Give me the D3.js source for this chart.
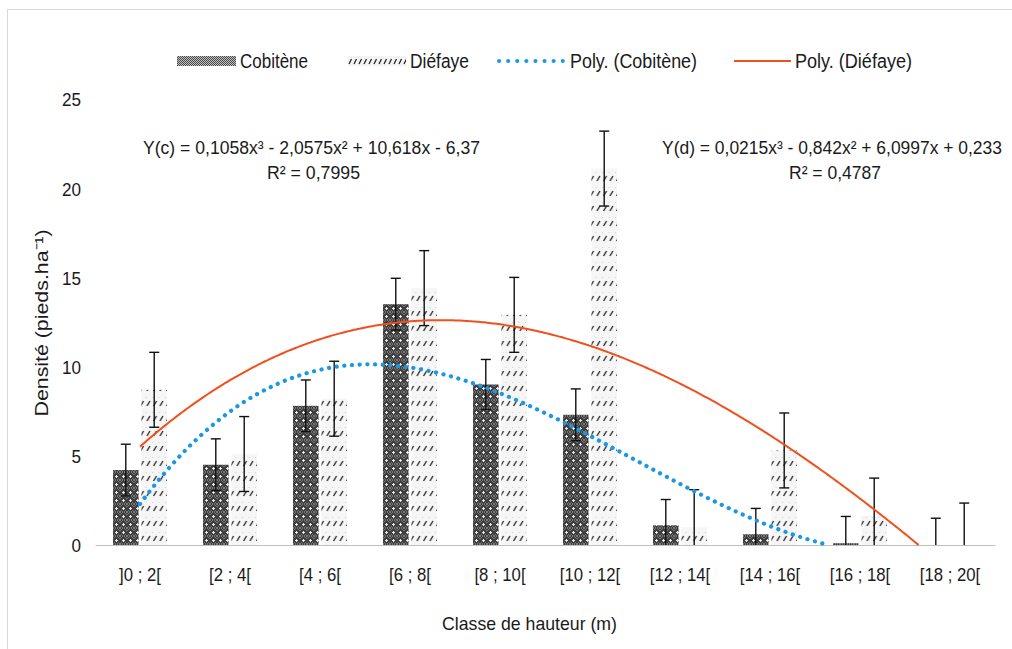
<!DOCTYPE html>
<html><head><meta charset="utf-8">
<script src="https://cdn.jsdelivr.net/npm/d3@7"></script>
<style>
body{margin:0;background:#fff}
text{font-family:"Liberation Sans","Arial",sans-serif;fill:#1a1a1a}
</style>
</head><body>
<svg id="c" width="1012" height="649"></svg>
<script>
// ---------- data ----------
const categories = ["]0 ; 2[", "[2 ; 4[", "[4 ; 6[", "[6 ; 8[", "[8 ; 10[", "[10 ; 12[", "[12 ; 14[", "[14 ; 16[", "[16 ; 18[", "[18 ; 20["];
const seriesNames = ["Cobitène", "Diéfaye"];
const cobitene    = [4.2, 4.5, 7.8, 13.5, 9.0, 7.3, 1.1, 0.6, 0.1, 0];
const cobiteneErr = [1.45, 1.45, 1.45, 1.45, 1.4, 1.45, 1.45, 1.45, 1.5, 1.5];
const diefaye     = [8.7, 5.1, 8.2, 14.4, 12.9, 21.1, 1.0, 5.3, 1.65, 0];
const diefayeErr  = [2.1, 2.1, 2.1, 2.1, 2.1, 2.1, 2.1, 2.1, 2.1, 2.35];
// trendline coefficients (x^3, x^2, x, 1) as printed on the chart
const polyCobitene = [0.1058, -2.0575, 10.618, -6.37];
const polyDiefaye  = [0.0215, -0.842, 6.0997, 0.233];
const eqCobitene = "Y(c) = 0,1058x³ - 2,0575x² + 10,618x - 6,37";
const r2Cobitene = "R² = 0,7995";
const eqDiefaye  = "Y(d) = 0,0215x³ - 0,842x² + 6,0997x + 0,233";
const r2Diefaye  = "R² = 0,4787";
const legendLabels = ["Cobitène", "Diéfaye", "Poly. (Cobitène)", "Poly. (Diéfaye)"];
const yTicks = [0, 5, 10, 15, 20, 25];
const xTitle = "Classe de hauteur (m)";
const yTitle = "Densité (pieds.ha⁻¹)";

// ---------- setup ----------
const svg = d3.select("#c");
const BLUE = "#1b98e4", RED = "#f0501e";

svg.append("rect").attr("x",7.5).attr("y",9.5).attr("width",1010).attr("height",645)
  .attr("fill","none").attr("stroke","#d9d9d9");

const defs = svg.append("defs");
// Cobitène: dark dense checker with small white crosses
const pc = defs.append("pattern").attr("id","pc").attr("patternUnits","userSpaceOnUse")
  .attr("width",7).attr("height",8);
pc.append("rect").attr("width",7).attr("height",8).attr("fill","#3d3d3d");
[[0,0],[2,0],[4,0],[6,0],[1,1],[5,1],[0,2],[6,2],[1,6],[5,6],[0,7],[2,7],[4,7],[6,7]].forEach(([a,b])=>
  pc.append("rect").attr("x",a).attr("y",b).attr("width",1).attr("height",1).attr("fill","#777"));
pc.append("rect").attr("x",3).attr("y",3).attr("width",1).attr("height",3).attr("fill","#e8e8e8");
pc.append("rect").attr("x",2).attr("y",4).attr("width",3).attr("height",1).attr("fill","#e8e8e8");
// Diéfaye: rows of short slashes on light stipple
const pd = defs.append("pattern").attr("id","pd").attr("patternUnits","userSpaceOnUse")
  .attr("width",6.5).attr("height",15).attr("y",545);
pd.append("rect").attr("width",6.5).attr("height",15).attr("fill","#f6f6f6");
pd.append("rect").attr("x",0).attr("y",2).attr("width",1).attr("height",1).attr("fill","#d0d0d0");
pd.append("line").attr("x1",1.5).attr("y1",11).attr("x2",4.5).attr("y2",6)
  .attr("stroke","#1a1a1a").attr("stroke-width",1.3);
// legend swatches
const pcl = defs.append("pattern").attr("id","pcl").attr("patternUnits","userSpaceOnUse")
  .attr("width",2).attr("height",2);
pcl.append("rect").attr("width",2).attr("height",2).attr("fill","#c0c0c0");
pcl.append("rect").attr("width",1).attr("height",1).attr("fill","#4a4a4a");
pcl.append("rect").attr("x",1).attr("y",1).attr("width",1).attr("height",1).attr("fill","#4a4a4a");
const pdl = defs.append("pattern").attr("id","pdl").attr("patternUnits","userSpaceOnUse")
  .attr("x",348).attr("y",56).attr("width",5).attr("height",10);
pdl.append("rect").attr("width",5).attr("height",10).attr("fill","#f3f3f3");
pdl.append("line").attr("x1",1).attr("y1",8).attr("x2",3.5).attr("y2",3)
  .attr("stroke","#222").attr("stroke-width",1.2);

// ---------- scales ----------
const x0 = d3.scaleBand().domain(categories).range([95, 995]).paddingInner(0.4).paddingOuter(0.2);
const x1 = d3.scaleBand().domain(seriesNames).range([0, x0.bandwidth()]).paddingInner(0.1);
const y = d3.scaleLinear().domain([0, 25]).range([545, 99]);
const xt = d3.scaleLinear().domain([1, categories.length])
  .range([x0(categories[0]) + x0.bandwidth()/2, x0(categories[categories.length-1]) + x0.bandwidth()/2]);

// ---------- axes ----------
const gx = svg.append("g").attr("transform","translate(0,545)")
  .call(d3.axisBottom(x0).tickSize(0).tickPadding(0));
gx.select(".domain").attr("stroke","#bfbfbf").attr("stroke-width",1.2);
gx.selectAll("text").attr("font-size",19).attr("fill","#1a1a1a")
  .attr("dy",null).attr("y",36)
  .each(function(){
    const t = d3.select(this);
    const w = this.getComputedTextLength()*0.88;
    t.attr("text-anchor","start").attr("x",-w/2)
     .attr("textLength",w).attr("lengthAdjust","spacingAndGlyphs");
  });

const gy = svg.append("g").attr("transform","translate(81,0)")
  .call(d3.axisLeft(y).tickValues(yTicks).tickSize(0).tickPadding(0));
gy.select(".domain").remove();
gy.selectAll("text").attr("font-size",19).attr("fill","#1a1a1a").attr("dy","0.36em")
  .each(function(){
    const w = this.getComputedTextLength()*0.9;
    d3.select(this).attr("text-anchor","start").attr("x",-w)
      .attr("textLength",w).attr("lengthAdjust","spacingAndGlyphs");
  });

// ---------- bars ----------
const rows = categories.map((c,i)=>({c, vals:[
  {s:seriesNames[0], v:cobitene[i], e:cobiteneErr[i], fill:"url(#pc)"},
  {s:seriesNames[1], v:diefaye[i],  e:diefayeErr[i],  fill:"url(#pd)"}]}));

const gBars = svg.append("g");
const grp = gBars.selectAll("g").data(rows).join("g")
  .attr("transform", d=>`translate(${x0(d.c)},0)`);
grp.selectAll("rect").data(d=>d.vals).join("rect")
  .attr("x", d=>x1(d.s)).attr("width", x1.bandwidth())
  .attr("y", d=>y(d.v)).attr("height", d=>y(0)-y(d.v))
  .attr("fill", d=>d.fill);

// error bars
const eb = grp.selectAll("g.eb").data(d=>d.vals).join("g").attr("class","eb")
  .attr("transform", d=>`translate(${x1(d.s)+x1.bandwidth()/2},0)`);
eb.append("line").attr("y1", d=>y(d.v+d.e)).attr("y2", d=>y(Math.max(0,d.v-d.e)))
  .attr("stroke","#111").attr("stroke-width",1.4);
eb.append("line").attr("x1",-5).attr("x2",5).attr("y1", d=>y(d.v+d.e)).attr("y2", d=>y(d.v+d.e))
  .attr("stroke","#111").attr("stroke-width",1.4);
eb.filter(d=>d.v-d.e>0).append("line").attr("x1",-5).attr("x2",5)
  .attr("y1", d=>y(d.v-d.e)).attr("y2", d=>y(d.v-d.e))
  .attr("stroke","#111").attr("stroke-width",1.4);

// ---------- trendlines ----------
function polyPts(c){
  const f = t => c[0]*t*t*t + c[1]*t*t + c[2]*t + c[3];
  const pts = [];
  for (let t=1; t<=categories.length+1e-9; t+=0.02){
    const v = f(t);
    if (v < 0){
      let a=t-0.02, b=t;
      for (let k=0;k<30;k++){ const m=(a+b)/2; if (f(m)>0) a=m; else b=m; }
      pts.push([a,0]); break;
    }
    pts.push([t,v]);
  }
  return pts;
}
const line = d3.line().x(d=>xt(d[0])).y(d=>y(d[1])).curve(d3.curveLinear);
svg.append("path").attr("d", line(polyPts(polyDiefaye)))
  .attr("fill","none").attr("stroke",RED).attr("stroke-width",2);
svg.append("path").attr("d", line(polyPts(polyCobitene)))
  .attr("fill","none").attr("stroke",BLUE).attr("stroke-width",4.2)
  .attr("stroke-linecap","round").attr("stroke-dasharray","0.1 7.6");

// ---------- texts ----------
function fitText(x, yy, str, w, fs){
  return svg.append("text").attr("x",x).attr("y",yy).attr("font-size",fs)
    .attr("textLength",w).attr("lengthAdjust","spacingAndGlyphs").text(str);
}
fitText(143, 154, eqCobitene, 337, 17.5);
fitText(267, 179, r2Cobitene, 93, 18.5);
fitText(662, 154, eqDiefaye, 340, 17.5);
fitText(789, 179, r2Diefaye, 92, 18.5);
fitText(442, 630, xTitle, 175, 19);

svg.append("text").attr("transform","translate(48,323) rotate(-90)")
  .attr("x",-93.5).attr("y",0).attr("font-size",19)
  .attr("textLength",187).attr("lengthAdjust","spacingAndGlyphs").text(yTitle);

// ---------- legend ----------
svg.append("rect").attr("x",177).attr("y",56).attr("width",59).attr("height",10).attr("fill","url(#pcl)");
svg.append("rect").attr("x",348).attr("y",56).attr("width",58).attr("height",10).attr("fill","url(#pdl)");
svg.append("line").attr("x1",499).attr("x2",563).attr("y1",61).attr("y2",61)
  .attr("stroke",BLUE).attr("stroke-width",4).attr("stroke-linecap","round").attr("stroke-dasharray","0.1 9");
svg.append("line").attr("x1",734).attr("x2",791).attr("y1",61).attr("y2",61)
  .attr("stroke",RED).attr("stroke-width",2);
const legX = [240, 410, 570, 795], legW = [68, 59, 127, 117];
legendLabels.forEach((s,i)=>fitText(legX[i], 68, s, legW[i], 20));
</script>
</body></html>
